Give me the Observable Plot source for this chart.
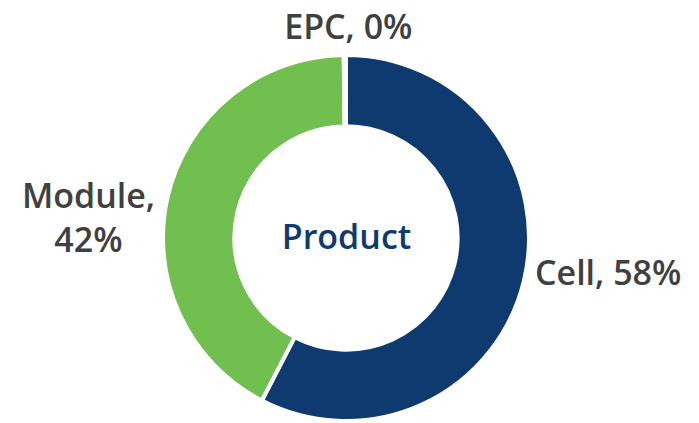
<!DOCTYPE html>
<html>
<head>
<meta charset="utf-8">
<script src="https://cdn.jsdelivr.net/npm/d3@7"></script>
<script src="https://cdn.jsdelivr.net/npm/@observablehq/plot@0.6"></script>
<style>
  html, body { margin: 0; padding: 0; background: #fff; }
  #chart { width: 699px; height: 423px; }
</style>
</head>
<body>
<div id="chart"></div>
<script>
// ---- data ----
const categories = ["Cell", "Module", "EPC"];
const shares = [57.6, 42.2, 0.2];
const labels = ["Cell, 58%", "Module,\n42%", "EPC, 0%"];
const centerTitle = "Product";

// ---- style / layout ----
const colors = ["#0E3A70", "#70BF4F", "#3A6FB0"];
const innerRatio = 0.61;
const textColor = "#404040";
const fontFamily = "'Open Sans', Lato, sans-serif";
const fontSize = 34;
// label anchor points in unit-radius coordinates (center = 0,0, radius = 1)
const labelLayout = {
  Cell:   {x: 1.03, y: -0.175, anchor: "start"},
  Module: {x: -1.41, y: 0.125, anchor: "middle"},
  EPC:    {x: 0.01, y: 1.17, anchor: "middle"}
};

const rows = categories.map((c, i) => ({category: c, value: shares[i], label: labels[i]}));
const arcs = d3.pie().value(d => d.value).sort(null)(rows);

const W = 699, H = 423, cx = 346, cy = 238, R = 183;

const labelMark = (anchor) => Plot.text(
  rows.filter(d => labelLayout[d.category].anchor === anchor), {
    x: d => labelLayout[d.category].x,
    y: d => labelLayout[d.category].y,
    text: "label",
    textAnchor: anchor,
    lineHeight: 1.32,
    fill: textColor,
    fontSize,
    fontWeight: 600
  });

const chart = Plot.plot({
  width: W,
  height: H,
  margin: 0,
  x: {domain: [-cx / R, (W - cx) / R], axis: null},
  y: {domain: [-(H - cy) / R, cy / R], axis: null},
  color: {domain: categories, range: colors},
  style: {fontFamily, background: "#fff"},
  marks: [
    Plot.dot(arcs, {
      x: () => 0,
      y: () => 0,
      fill: d => d.data.category,
      render: (index, scales, values) => {
        const g = d3.create("svg:g");
        const r = scales.x(1) - scales.x(0);
        const arcGen = d3.arc().outerRadius(r).innerRadius(r * innerRatio);
        for (const i of index) {
          g.append("path")
            .attr("transform", `translate(${values.x[i]},${values.y[i]})`)
            .attr("d", arcGen(arcs[i]))
            .attr("fill", values.fill[i])
            .attr("stroke", "#fff")
            .attr("stroke-width", 4)
            .attr("stroke-linejoin", "miter");
        }
        return g.node();
      }
    }),
    labelMark("start"),
    labelMark("middle"),
    Plot.text([centerTitle], {
      x: () => 0,
      y: () => 0,
      text: d => d,
      fill: colors[0],
      fontSize,
      fontWeight: 600
    })
  ]
});
document.getElementById("chart").appendChild(chart);
</script>
</body>
</html>
